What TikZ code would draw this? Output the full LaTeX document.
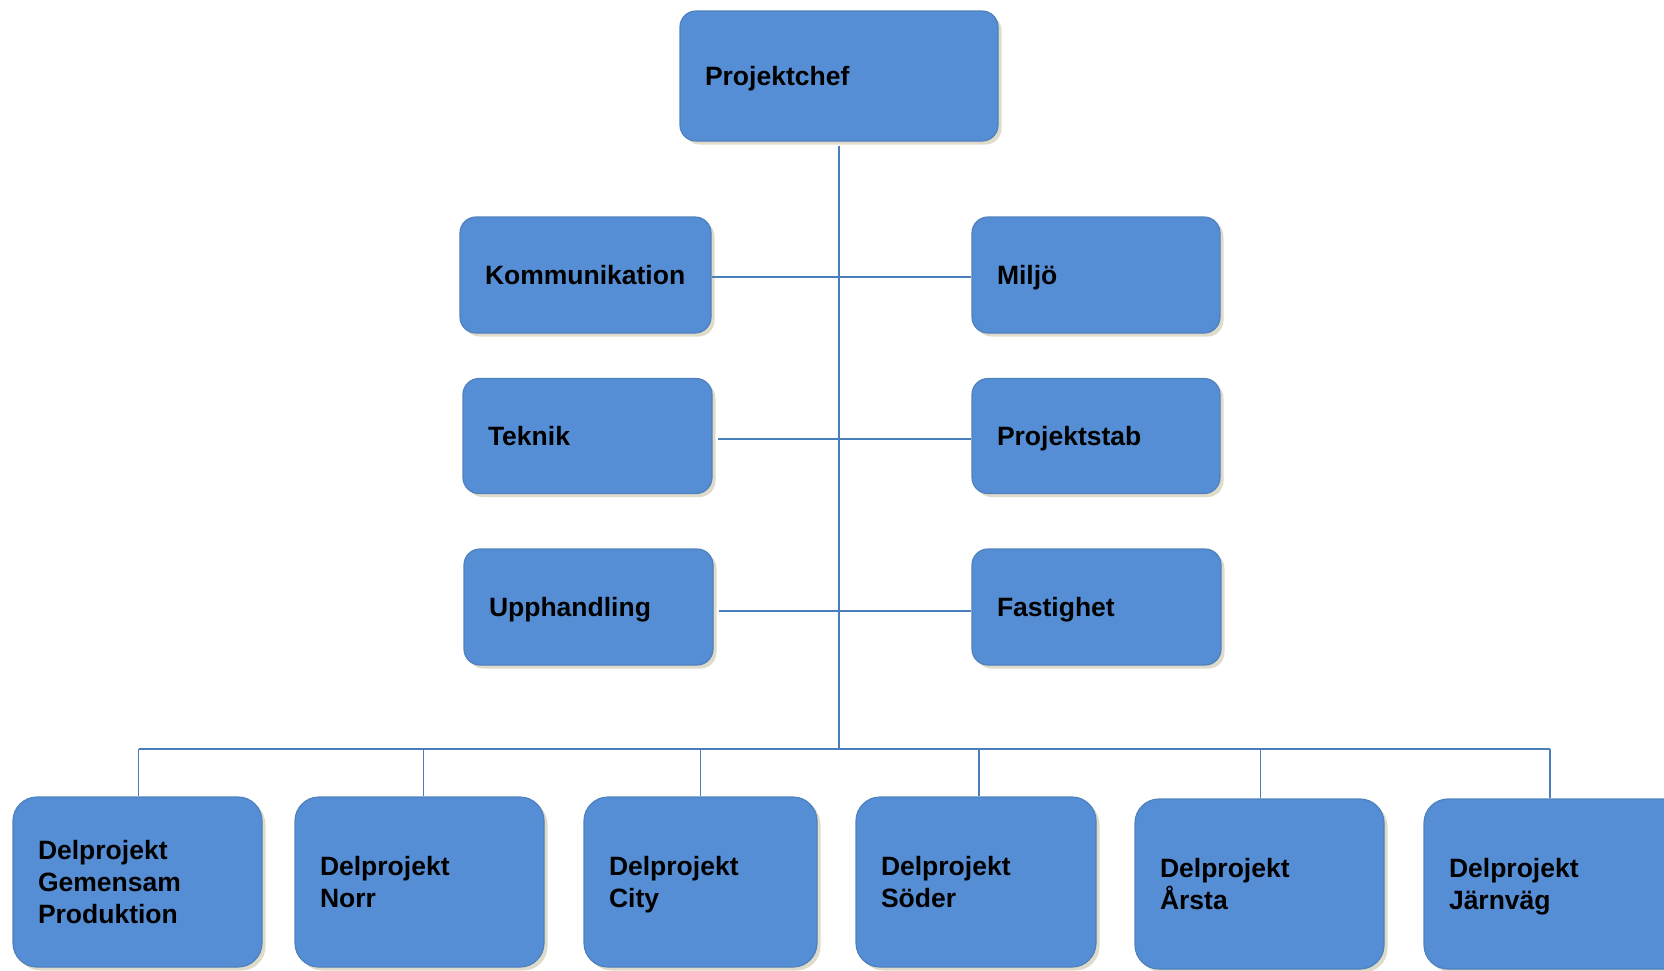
\documentclass[tikz,border=0pt]{standalone}
\usepackage{fontspec}
\setmainfont{Liberation Sans}
\usetikzlibrary{shadows}
\definecolor{boxfill}{HTML}{558ED5}
\definecolor{boxline}{HTML}{4F81BD}
\definecolor{linec}{HTML}{4A7EBB}
\definecolor{shadowc}{HTML}{DEDBCB}
\begin{document}
\begin{tikzpicture}[x=1pt,y=-1pt,
  basebox/.style={draw=boxline, line width=1.2pt, fill=boxfill, rounded corners=16pt,
    inner xsep=25pt, inner ysep=0pt, align=left, anchor=center,
    font=\fontsize{26.5}{32}\selectfont\bfseries,
    drop shadow={shadow xshift=3.5pt, shadow yshift=-3.5pt, fill=shadowc, opacity=1}},
  orgbox/.style={basebox, text depth=0pt},
  lowbox/.style={basebox, rounded corners=24pt, minimum height=170pt},
  conn/.style={draw=linec, line width=1.4pt}]
\useasboundingbox (0,0) rectangle (1664,970);
% top
\node[orgbox, text width=268pt, minimum height=130pt] (proj) at (839,76) {Projektchef};
% staff rows
\node[orgbox, text width=201pt, minimum height=116pt] (komm) at (585.5,275) {Kommunikation};
\node[orgbox, text width=198pt, minimum height=116pt] (milj) at (1096,275) {Miljö};
\node[orgbox, text width=199pt, minimum height=115pt] (tekn) at (587.5,436) {Teknik};
\node[orgbox, text width=198pt, minimum height=115pt] (pstab) at (1096,436) {Projektstab};
\node[orgbox, text width=199pt, minimum height=116pt] (upph) at (588.5,607) {Upphandling};
\node[orgbox, text width=199pt, minimum height=116pt] (fast) at (1096.5,607) {Fastighet};
% bottom row
\node[lowbox, text width=199pt] (d1) at (137.5,882) {Delprojekt\\Gemensam\\Produktion};
\node[lowbox, text width=199pt] (d2) at (419.5,882) {Delprojekt\\Norr};
\node[lowbox, text width=183pt] (d3) at (700.5,882) {Delprojekt\\\smash{City}};
\node[lowbox, text width=190pt] (d4) at (976,882) {Delprojekt\\Söder};
\node[lowbox, text width=199pt] (d5) at (1259.5,884) {Delprojekt\\Årsta};
\node[lowbox, text width=216pt] (d6) at (1557,884) {Delprojekt\\\smash{Järnväg}};
% connectors
\coordinate (bus) at (839,749);
\coordinate (t1) at ([xshift=1pt]d1.north);
\coordinate (t2) at ([xshift=4pt]d2.north);
\coordinate (t3) at (d3.north);
\coordinate (t4) at ([xshift=3pt]d4.north);
\coordinate (t5) at ([xshift=1pt]d5.north);
\coordinate (t6) at ([xshift=-7pt]d6.north);
\draw[conn] ([yshift=-4pt]proj.south) -- (bus);
\draw[conn] ([yshift=-2pt]komm.east) -- ([yshift=-2pt]milj.west);
\draw[conn] ([xshift=5pt,yshift=-3pt]tekn.east) -- ([yshift=-3pt]pstab.west);
\draw[conn] ([xshift=5pt,yshift=-4pt]upph.east) -- ([yshift=-4pt]fast.west);
\draw[conn] (t1 |- bus) -- (t6 |- bus);
\foreach \n in {t1,t2,t3,t4,t5,t6}{\draw[conn] (\n |- bus) -- (\n);}
\end{tikzpicture}
\end{document}
